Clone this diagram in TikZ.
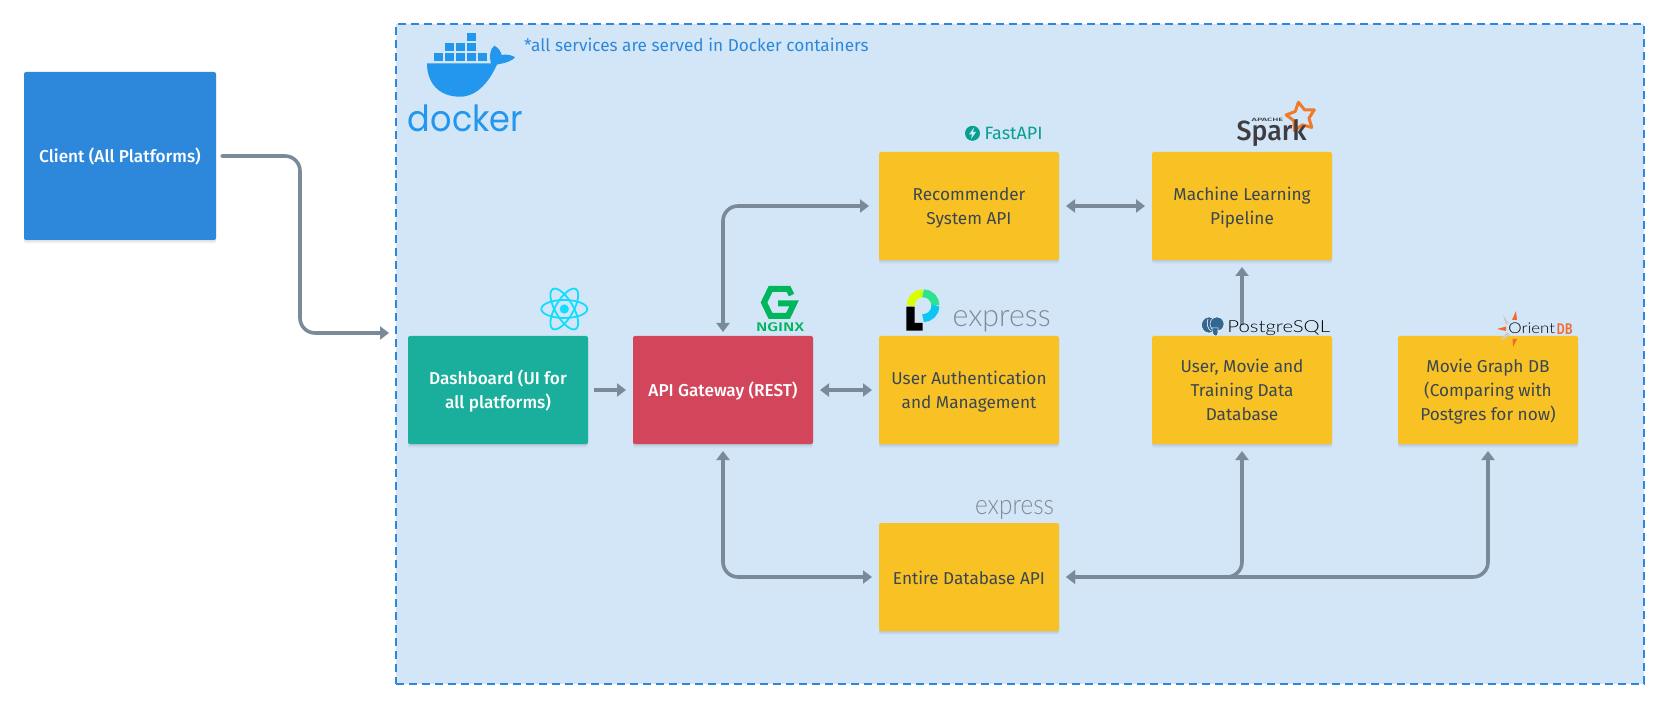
\documentclass[tikz,border=0pt]{standalone}
\usepackage{fontspec}
\usetikzlibrary{arrows.meta}
\setmainfont{Fira Sans}[BoldFont={Fira Sans Medium}]
\newfontfamily\logolight{Lato Light}
\newfontfamily\logopop{Poppins}
\definecolor{boxyellow}{HTML}{F8C224}
\definecolor{boxteal}{HTML}{19AF9C}
\definecolor{boxred}{HTML}{D3455B}
\definecolor{boxblue}{HTML}{2D88DB}
\definecolor{panelfill}{HTML}{D3E6F7}
\definecolor{linegrey}{HTML}{7A8A99}
\definecolor{inkdark}{HTML}{3A4653}
\definecolor{whaleblue}{HTML}{2396ED}
\definecolor{reactcyan}{HTML}{13DDFF}
\definecolor{nginxgreen}{HTML}{00B65C}
\definecolor{sparkorange}{HTML}{EE7A2A}
\definecolor{sparkink}{HTML}{3F3D42}
\definecolor{orientorange}{HTML}{F26A2E}
\definecolor{pgblue}{HTML}{336791}
\definecolor{fastteal}{HTML}{05A08F}
\definecolor{exprgrey}{HTML}{7F8B95}
\tikzset{
  x=1pt,y=-1pt,
  softshadow/.style={
    preaction={fill=black,opacity=.035,transform canvas={yshift=-1pt}},
    preaction={fill=black,opacity=.035,transform canvas={yshift=-2pt}},
    preaction={fill=black,opacity=.03,transform canvas={yshift=-3pt}},
    preaction={fill=black,opacity=.02,transform canvas={yshift=-4pt}}},
  box/.style={rectangle,rounded corners=2pt,minimum width=180pt,minimum height=108pt,inner sep=0pt,outer sep=0pt,
    align=center,font=\fontsize{17.2}{24}\selectfont,softshadow,
    execute at begin node=\rule{0pt}{19pt},execute at end node=\rule[-5pt]{0pt}{5pt}},
  twolines/.style={execute at begin node=\rule{0pt}{42.5pt}},
  threelines/.style={execute at begin node=\rule{0pt}{66.5pt}},
  yellowbox/.style={box,fill=boxyellow,text=inkdark},
  conn/.style={draw=linegrey,line width=3.6pt,rounded corners=15pt,-{Triangle[length=9pt,width=13pt]}},
  biconn/.style={conn,{Triangle[length=9pt,width=13pt]}-{Triangle[length=9pt,width=13pt]}},
  logotext/.style={inner sep=0pt,outer sep=0pt},
}
\begin{document}
\begin{tikzpicture}
\useasboundingbox (0,0) rectangle (1668,708);
\fill[white] (0,0) rectangle (1668,708);

\node[rectangle,fill=panelfill,draw=boxblue,line width=2pt,dash pattern=on 8pt off 5pt,minimum width=1248pt,minimum height=660pt,inner sep=0pt,outer sep=0pt] (panel) at (1020,354) {};
\node[logotext,anchor=west,text=boxblue,font=\fontsize{17.2}{20}\selectfont] (note) at (524,45) {*all services are served in Docker containers};

\node[box,fill=boxblue,text=white,minimum height=168pt,minimum width=192pt,font=\fontsize{17.2}{24}\selectfont\bfseries] (client) at (120,156) {Client (All Platforms)};
\node[box,twolines,fill=boxteal,text=white,font=\fontsize{17.2}{24}\selectfont\bfseries] (dash) at (498,390) {Dashboard (UI for\\all platforms)};
\node[box,fill=boxred,text=white,font=\fontsize{17.2}{24}\selectfont\bfseries] (gw) at (723,390) {API Gateway (REST)};
\node[yellowbox,twolines] (rec) at (969,206) {Recommender\\System API};
\node[yellowbox,twolines] (ml) at (1242,206) {Machine Learning\\Pipeline};
\node[yellowbox,twolines] (auth) at (969,390) {User Authentication\\and Management};
\node[yellowbox,threelines] (userdb) at (1242,390) {User, Movie and\\Training Data\\Database};
\node[yellowbox,threelines] (graph) at (1488,390) {Movie Graph DB\\(Comparing with\\Postgres for now)};
\node[yellowbox] (entire) at (969,577) {Entire Database API};

\coordinate (panelin) at (396,333);
\draw[conn,shorten <=6pt,shorten >=7pt,line cap=round] (client.east) -- (300,156) -- (300,333) -- (panelin);
\draw[conn,shorten <=6pt,shorten >=7pt] (dash.east) -- (gw.west);
\draw[biconn,shorten <=7pt,shorten >=7pt] (gw.east) -- (auth.west);
\draw[biconn,shorten <=7pt,shorten >=7pt] (rec.east) -- (ml.west);
\draw[biconn,shorten <=4pt,shorten >=10pt] (gw.north) -- (723,206) -- (rec.west);
\draw[biconn,shorten <=7pt,shorten >=7pt] (gw.south) -- (723,577) -- (entire.west);
\draw[biconn,shorten <=7pt,shorten >=7pt] (entire.east) -- (1242,577) -- (userdb.south);
\draw[biconn,shorten <=7pt,shorten >=7pt] (entire.east) -- (1488,577) -- (graph.south);
\draw[conn,shorten <=11pt,shorten >=7pt] (userdb.north) -- (ml.south);

% Docker logo
\fill[whaleblue] (466.7,33.3) rectangle (476,41.5);
\foreach \bx in {445,456,466.7}{\fill[whaleblue] (\bx,42.7) rectangle ++(9.3,8.3);}
\foreach \bx in {434,445,456,466.7,477.7}{\fill[whaleblue] (\bx,52.7) rectangle ++(9.3,8.3);}
\fill[whaleblue] (427,63.5) -- (491,63.5) .. controls (489,56) and (490,49) .. (494.3,45.7)
  .. controls (499,48) and (501,52) .. (501.7,55) .. controls (506,54) and (512,55) .. (515,57.3)
  .. controls (512,61) and (506,63) .. (497,64.5) .. controls (490,80) and (478,96.7) .. (460,96.7)
  .. controls (438,96.7) and (427,82) .. (427,63.5) -- cycle;
\node[logotext,text=whaleblue] (dockerword) at (465.5,118.5) {\resizebox*{115pt}{27pt}{\logopop docker}};

% React logo
\begin{scope}[shift={(564.3,309)}]
\foreach \ra in {0,60,120}{\draw[reactcyan,line width=1.8pt,rotate=\ra] (0,0) ellipse [x radius=23pt,y radius=9pt];}
\fill[reactcyan] (0,0) circle [radius=4.6pt];
\end{scope}

% nginx logo
\draw[nginxgreen,line width=6pt,miter limit=4] (791.5,295) -- (788.5,289) -- (770.5,289) -- (764,302.5) -- (770.5,316) -- (788,316) -- (794,303.5) -- (778,303.5);
\node[logotext,text=nginxgreen] (nginxword) at (780,327.2) {\resizebox*{48pt}{9pt}{\bfseries NGINX}};

% FastAPI logo
\fill[fastteal] (972.5,133.3) circle [radius=7.5pt];
\fill[panelfill] (974,127.5) -- (969,134.5) -- (972,134.5) -- (971,139) -- (976,132) -- (973,132) -- cycle;
\node[logotext,text=fastteal] (fastword) at (1013.5,133) {\resizebox*{58pt}{12.5pt}{FastAPI}};

% Spark logo
\begin{scope}[shift={(1301,117)}]
\draw[sparkorange,line width=3pt,line join=round] (100:15pt) -- (64:8pt) -- (28:15pt) -- (-8:8pt) -- (-44:15pt) -- (-80:8pt) -- (-116:15pt) -- (-152:8pt) -- (172:15pt) -- (136:8pt) -- cycle;
\end{scope}
\node[logotext,text=sparkink] (sparkword) at (1271.7,133.5) {\resizebox*{70pt}{27pt}{\bfseries Spark}};
\node[logotext,text=sparkink] (apacheword) at (1267.5,120) {\resizebox*{31.6pt}{3.4pt}{\bfseries APACHE}};

% Passport logo
\fill[black] (906.4,306.7) -- (914.6,306.7) -- (914.6,323) -- (922.5,323) -- (922.5,330.7) -- (906.4,330.7) -- cycle;
\draw[draw={rgb,255:red,216;green,255;blue,0},line width=8pt] (910.5,305.7) arc [start angle=180,end angle=90,radius=12.5pt];
\draw[draw={rgb,255:red,46;green,227;blue,143},line width=8pt] (923,293.2) arc [start angle=90,end angle=0,radius=12.5pt];
\draw[draw={rgb,255:red,11;green,197;blue,245},line width=8pt] (935.5,305.7) arc [start angle=0,end angle=-90,radius=12.5pt];
\node[logotext,text=exprgrey] (exprtop) at (1001.6,321) {\resizebox*{98pt}{21.5pt}{\logolight express}};
\node[logotext,text=exprgrey] (exprbot) at (1014.5,509.5) {\resizebox*{79pt}{19pt}{\logolight express}};

% PostgreSQL logo
\fill[pgblue,draw=white,line width=.5pt] (1209,325) ellipse [x radius=7.5pt,y radius=8pt];
\fill[pgblue,draw=white,line width=.5pt] (1217,324) ellipse [x radius=7pt,y radius=7pt];
\fill[pgblue,draw=white,line width=.5pt] (1212,328) .. controls (1212,332) and (1213,336) .. (1216,336) .. controls (1218,336) and (1218,332) .. (1218,328) -- cycle;
\draw[white,line width=.6pt] (1208,319) .. controls (1206,324) and (1208,329) .. (1211,331);
\node[logotext,text=black] (pgword) at (1278.7,328.3) {\resizebox*{102.7pt}{15pt}{\logolight PostgreSQL}};

% OrientDB logo
\fill[orientorange] (1516,311) -- (1517,320) -- (1512,320) -- cycle;
\fill[orientorange] (1497,329) -- (1506,326.5) -- (1506,331) -- cycle;
\fill[orientorange] (1513,347) -- (1512.5,339) -- (1517,339) -- cycle;
\fill[black!20] (1503,315) -- (1509,323) -- (1505.5,325) -- cycle;
\fill[black!20] (1500,341) -- (1510,335) -- (1507,332) -- cycle;
\node[logotext,text=black] (orientword) at (1531.7,328.7) {\resizebox*{46.7pt}{10.7pt}{\logolight Orient}};
\node[logotext,text=orientorange] (dbword) at (1564.7,328.7) {\resizebox*{16pt}{10.7pt}{\bfseries DB}};
\end{tikzpicture}
\end{document}
